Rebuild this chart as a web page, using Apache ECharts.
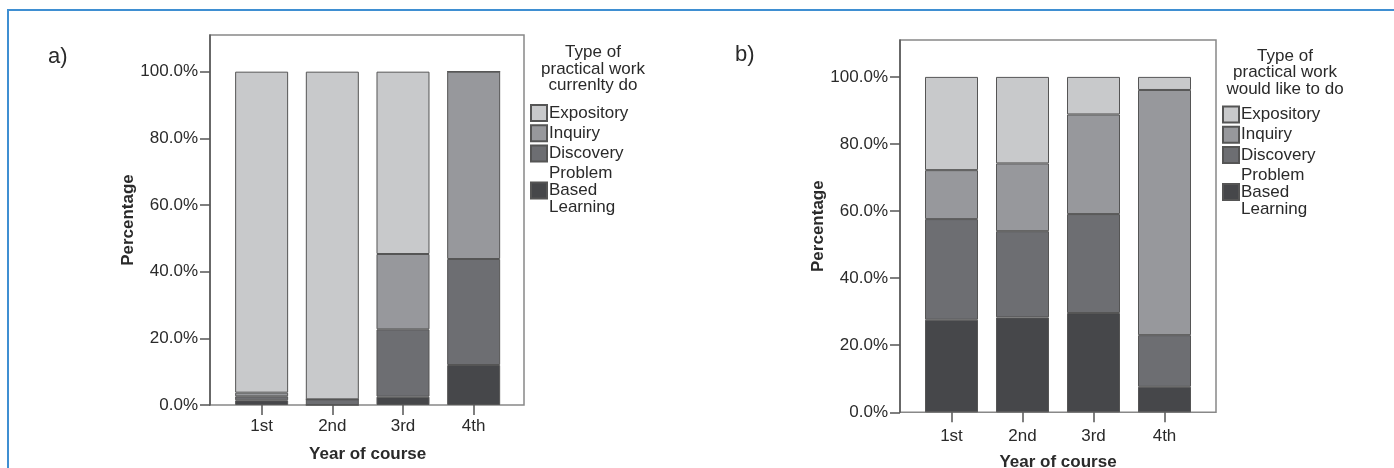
<!DOCTYPE html>
<html>
<head>
<meta charset="utf-8">
<script src="https://cdn.jsdelivr.net/npm/echarts@6/dist/echarts.min.js"></script>
<style>
html,body{margin:0;padding:0;background:#fff;}
#c{width:1394px;height:468px;}
</style>
</head>
<body>
<div id="c"></div>
<script>
// ---- data ----
const categories = ['1st', '2nd', '3rd', '4th'];
const typeNames = ['Expository', 'Inquiry', 'Discovery', 'Problem Based Learning'];
// Panel a) currently do (percent)
const currentPBL        = [1.4, 0,    2.5,  12.0];
const currentDiscovery  = [1.2, 1.7,  20.2, 31.8];
const currentInquiry    = [1.1, 0,    22.6, 56.2];
const currentExpository = [96.3, 98.3, 54.7, 0];
// Panel b) would like to do (percent)
const likePBL        = [27.6, 28.3, 29.6, 7.6];
const likeDiscovery  = [30.0, 25.7, 29.5, 15.4];
const likeInquiry    = [14.6, 20.2, 29.7, 73.1];
const likeExpository = [27.8, 25.8, 11.2, 3.9];
const yTicks = [0, 20, 40, 60, 80, 100];

const colors = {
  'Expository': '#c8c9cb',
  'Inquiry': '#97989c',
  'Discovery': '#6d6e72',
  'Problem Based Learning': '#46474a'
};
const FONT = "'Liberation Sans', Arial, sans-serif";
const TXT = '#2a2a2a';

const chart = echarts.init(document.getElementById('c'), null, {renderer: 'canvas'});

function frameYAxis(gridIndex, gap) {
  return {
    type: 'value', gridIndex: gridIndex, min: 0, max: 111, interval: 20,
    name: 'Percentage', nameLocation: 'middle', nameGap: gap,
    nameTextStyle: {fontFamily: FONT, fontSize: 17, fontWeight: 'bold', color: TXT},
    axisLine: {show: true, lineStyle: {color: '#555', width: 1.5}},
    axisTick: {show: true, length: 10, lineStyle: {color: '#555', width: 1.5}},
    axisLabel: {
      margin: 12, fontFamily: FONT, fontSize: 17, color: TXT, showMaxLabel: false,
      formatter: function (v) { return yTicks.indexOf(v) >= 0 ? v.toFixed(1) + '%' : ''; }
    },
    splitLine: {show: false}
  };
}
function hiddenY(gridIndex) {
  return {type: 'value', gridIndex: gridIndex, min: 0, max: 111, show: false, splitLine: {show: false}};
}
function barX(gridIndex, margin, gap) {
  return {
    type: 'category', gridIndex: gridIndex, data: categories, boundaryGap: true,
    name: 'Year of course', nameLocation: 'middle', nameGap: gap,
    nameTextStyle: {fontFamily: FONT, fontSize: 17, fontWeight: 'bold', color: TXT},
    axisLine: {show: false},
    axisTick: {show: true, alignWithLabel: true, length: 10, lineStyle: {color: '#555', width: 1.5}},
    axisLabel: {margin: margin, fontFamily: FONT, fontSize: 17, color: TXT}
  };
}
function mkSeries(name, data, xi, yi) {
  return {
    name: name, type: 'bar', stack: 's' + xi, xAxisIndex: xi, yAxisIndex: yi,
    data: data, barWidth: 53,
    itemStyle: {color: colors[name], borderColor: '#555', borderWidth: 1},
    emphasis: {disabled: true}
  };
}
const legendCommon = {
  orient: 'vertical', icon: 'rect', itemWidth: 16, itemHeight: 16, itemGap: 2.3,
  selectedMode: false, padding: 0,
  textStyle: {fontFamily: FONT, fontSize: 17, color: TXT, lineHeight: 17, padding: [0,0,0,-3]},
  formatter: function (n) { return n === 'Problem Based Learning' ? 'Problem\nBased\nLearning' : n; },
  data: typeNames
};

const option = {
  animation: false,
  backgroundColor: '#fff',
  grid: [
    {left: 210, top: 35, width: 314, height: 370, show: true, borderColor: '#888', borderWidth: 1.5, backgroundColor: 'transparent', outerBoundsMode: 'none', containLabel: false},
    {left: 226.3, top: 35, width: 282.7, height: 370, outerBoundsMode: 'none', containLabel: false},
    {left: 900, top: 40, width: 316, height: 372.3, show: true, borderColor: '#888', borderWidth: 1.5, backgroundColor: 'transparent', outerBoundsMode: 'none', containLabel: false},
    {left: 916, top: 40, width: 284, height: 372.3, outerBoundsMode: 'none', containLabel: false}
  ],
  xAxis: [
    {type: 'value', gridIndex: 0, show: false},
    barX(1, 13, 41),
    {type: 'value', gridIndex: 2, show: false},
    barX(3, 16, 42)
  ],
  yAxis: [frameYAxis(0, 70), hiddenY(1), frameYAxis(2, 69), hiddenY(3)],
  legend: [
    Object.assign({left: 530, top: 104}, legendCommon),
    Object.assign({left: 1222, top: 105.5}, legendCommon)
  ],
  title: [
    {text: 'Type of\npractical work\ncurrenlty do', left: 593, top: 44, textAlign: 'center', padding: 0,
     textStyle: {fontFamily: FONT, fontSize: 17, fontWeight: 'normal', color: TXT, lineHeight: 16.7}},
    {text: 'Type of\npractical work\nwould like to do', left: 1285, top: 47.5, textAlign: 'center', padding: 0,
     textStyle: {fontFamily: FONT, fontSize: 17, fontWeight: 'normal', color: TXT, lineHeight: 16.7}}
  ],
  graphic: [
    {type: 'rect', shape: {x: 8, y: 10, width: 1450, height: 520}, style: {fill: 'none', stroke: '#3f8fd2', lineWidth: 2}, silent: true, z: 100},
    {type: 'text', x: 48, y: 57, style: {text: 'a)', font: "22px 'Liberation Sans', Arial", fill: TXT, verticalAlign: 'middle'}},
    {type: 'text', x: 735, y: 55, style: {text: 'b)', font: "22px 'Liberation Sans', Arial", fill: TXT, verticalAlign: 'middle'}}
  ],
  series: [
    mkSeries('Problem Based Learning', currentPBL, 1, 1),
    mkSeries('Discovery', currentDiscovery, 1, 1),
    mkSeries('Inquiry', currentInquiry, 1, 1),
    mkSeries('Expository', currentExpository, 1, 1),
    mkSeries('Problem Based Learning', likePBL, 3, 3),
    mkSeries('Discovery', likeDiscovery, 3, 3),
    mkSeries('Inquiry', likeInquiry, 3, 3),
    mkSeries('Expository', likeExpository, 3, 3)
  ]
};
chart.setOption(option);
</script>
</body>
</html>
